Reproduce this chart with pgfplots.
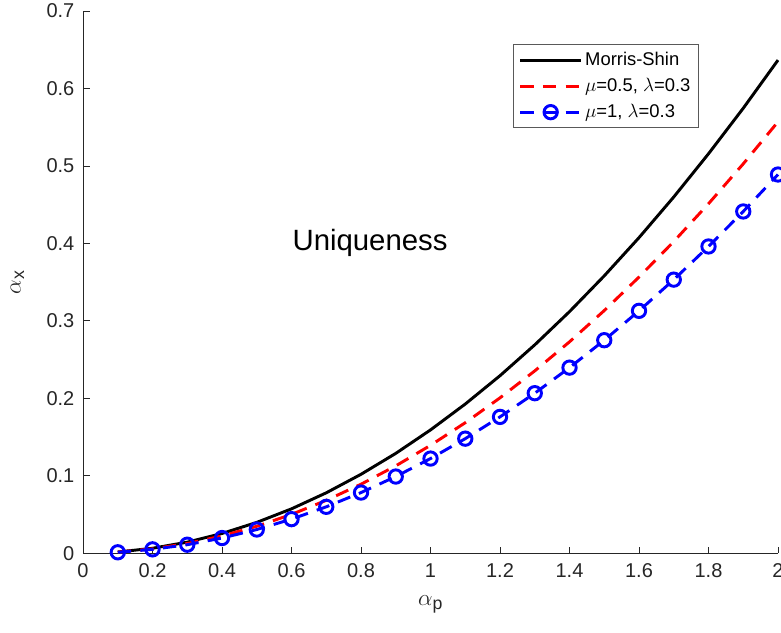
\documentclass[border=0pt]{standalone}
\usepackage{fontspec}
\setmainfont{Liberation Sans}
\usepackage{pgfplots}
\pgfplotsset{compat=1.18}
\definecolor{axgray}{RGB}{38,38,38}
\definecolor{mred}{RGB}{255,0,0}
\definecolor{mblue}{RGB}{0,0,255}

\pgfplotstableread{
x    ms      red     blue
0.1  0.0016  0.0014  0.0012
0.2  0.0064  0.0056  0.0050
0.3  0.0143  0.0125  0.0110
0.4  0.0255  0.0223  0.0196
0.5  0.0398  0.0348  0.0306
0.6  0.0573  0.0501  0.0440
0.7  0.0780  0.0683  0.0599
0.8  0.1019  0.0891  0.0783
0.9  0.1289  0.1128  0.0990
1.0  0.1592  0.1393  0.1222
1.1  0.1926  0.1685  0.1479
1.2  0.2292  0.2006  0.1760
1.3  0.2690  0.2354  0.2066
1.4  0.3119  0.2729  0.2396
1.5  0.3581  0.3133  0.2750
1.6  0.4074  0.3565  0.3129
1.7  0.4599  0.4024  0.3532
1.8  0.5157  0.4512  0.3960
1.9  0.5745  0.5027  0.4412
2.0  0.6366  0.5570  0.4889
}\datatab

\begin{document}
\begin{tikzpicture}
\begin{axis}[
  scale only axis, width=521pt, height=406.5pt,
  xmin=0, xmax=2, ymin=0, ymax=0.7,
  axis lines=left, axis line style={-, axgray, line width=0.6pt},
  xtick={0,0.2,...,2.01}, ytick={0,0.1,...,0.71},
  tick align=inside, major tick length=5pt,
  tick style={axgray, line width=0.6pt},
  ticklabel style={font=\fontsize{15}{17}\selectfont, text=axgray},
  /pgf/number format/assume math mode=true,
  /pgf/number format/fixed,
  xticklabel style={yshift=-4pt},
  yticklabel style={xshift=-3pt},
  xlabel={$\alpha$\textsubscript{p}}, ylabel={$\alpha$\textsubscript{x}},
  label style={font=\fontsize{19}{21}\selectfont, text=axgray},
  xlabel style={yshift=-7pt},
  ylabel style={yshift=10pt},
  clip=false,
  legend cell align=left,
  legend style={at={(0.886,0.939)}, anchor=north east, draw=gray!70!black,
    line width=0.6pt, font=\fontsize{13.8}{16}\selectfont,
    inner sep=4pt, row sep=4pt,
    /tikz/every even column/.append style={column sep=2pt}},
  legend image code/.code={\draw[mark repeat=2,mark phase=2,#1] plot coordinates {(0cm,0cm) (0.8cm,0cm) (1.6cm,0cm)};},
]
\addplot[black, line width=2.2pt] table[x=x,y=ms] {\datatab};
\addplot[mred, line width=2.2pt, dash pattern=on 10pt off 7pt] table[x=x,y=red] {\datatab};
\addplot[mblue, line width=2.2pt, dash pattern=on 10pt off 7pt, mark=o, mark size=5pt, mark options={solid}] table[x=x,y=blue] {\datatab};
\legend{Morris-Shin, {$\mu$=0.5, $\lambda$=0.3}, {$\mu$=1, $\lambda$=0.3}}
\node[font=\fontsize{22}{25}\selectfont] at (axis cs:0.826,0.40) {Uniqueness};
\coordinate (bl) at (rel axis cs:0,0);
\coordinate (tr) at (rel axis cs:1,1);
\end{axis}
\pgfresetboundingbox
\useasboundingbox ([shift={(-62.25pt,-59.25pt)}]bl) rectangle ([shift={(2.25pt,8.25pt)}]tr);
\end{tikzpicture}
\end{document}
